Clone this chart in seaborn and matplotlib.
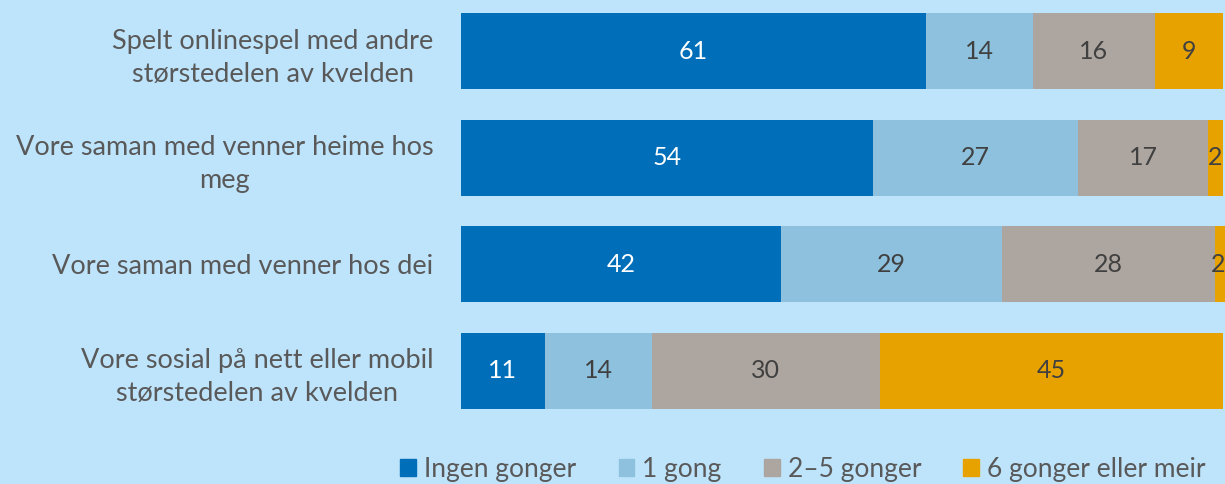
import numpy as np
import pandas as pd
import matplotlib
matplotlib.use("Agg")
import matplotlib.pyplot as plt
import seaborn as sns

categories = [
    "Spelt onlinespel med andre\nstørstedelen av kvelden",
    "Vore saman med venner heime hos\nmeg",
    "Vore saman med venner hos dei",
    "Vore sosial på nett eller mobil\nstørstedelen av kvelden",
]
series = ["Ingen gonger", "1 gong", "2–5 gonger", "6 gonger eller meir"]
ingen = [61, 54, 42, 11]
en_gong = [14, 27, 29, 14]
to_fem = [16, 17, 28, 30]
seks_pluss = [9, 2, 2, 45]

colors = ["#006EB8", "#8DC1DE", "#ADA6A0", "#E8A200"]
text_colors = ["white", "#404040", "#404040", "#404040"]
bg = "#BEE4FC"

sns.set_theme(style="white")
plt.rcParams["font.family"] = ["Lato", "DejaVu Sans"]

values = np.array([ingen, en_gong, to_fem, seks_pluss], dtype=float)
cum = values.cumsum(axis=0)

W, H = 1225, 484
fig = plt.figure(figsize=(W / 100, H / 100), dpi=100, facecolor=bg)
ax = fig.add_axes([461 / W, 1 - 424.3 / H, 764 / W, 426.6 / H])
ax.set_facecolor(bg)

# Stacked bars: draw the running totals from the outermost segment inward
for i in range(len(series) - 1, -1, -1):
    df = pd.DataFrame({"cat": categories, "val": cum[i]})
    sns.barplot(data=df, x="val", y="cat", orient="h", color=colors[i],
                saturation=1, width=0.712, ax=ax, linewidth=0)

xmax = 100.25
for i in range(len(series)):
    for j in range(len(categories)):
        mid = cum[i, j] - values[i, j] / 2
        x = min(mid, xmax - 0.9)
        ax.text(x, j, f"{int(values[i, j])}", ha="center", va="center",
                fontsize=18, color=text_colors[i])

ax.set_xlim(0, xmax)
ax.set_ylim(3.5, -0.5)
ax.set_xlabel("")
ax.set_ylabel("")
ax.set_xticks([])
ax.tick_params(axis="y", length=0, pad=20, labelsize=19.5, labelcolor="#595959")
for lab in ax.get_yticklabels():
    lab.set_multialignment("center")
    lab.set_linespacing(1.4)
for s in ax.spines.values():
    s.set_visible(False)

handles = [plt.Rectangle((0, 0), 1, 1, color=c) for c in colors]
fig.legend(handles, series, loc="center", bbox_to_anchor=(803 / W, 1 - 469 / H),
           ncol=4, frameon=False, fontsize=19, labelcolor="#595959",
           handlelength=0.6, handleheight=0.6, handletextpad=0.3, columnspacing=1.6)

fig.savefig("out.png", dpi=100, facecolor=bg)
